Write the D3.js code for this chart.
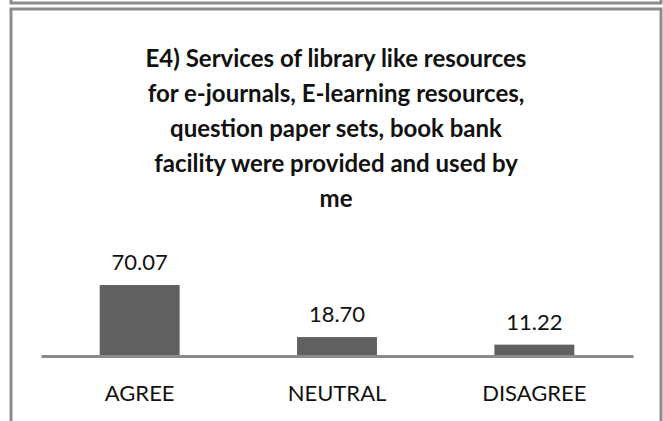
<!DOCTYPE html>
<html>
<head>
<meta charset="utf-8">
<script src="https://cdn.jsdelivr.net/npm/d3@7"></script>
<style>
  body { margin: 0; background: #fff; }
  text { font-family: Lato, "Open Sans", sans-serif; fill: #111; }
</style>
</head>
<body>
<svg width="663" height="421"></svg>
<script>
const WIDTH = 663
const HEIGHT = 421

const categories = ['AGREE', 'NEUTRAL', 'DISAGREE']
const values = [70.07, 18.70, 11.22]
const valueLabels = ['70.07', '18.70', '11.22']
const titleLines = [
    'E4) Services of library like resources',
    'for e-journals, E-learning resources,',
    'question paper sets, book bank',
    'facility were provided and used by',
    'me'
]

const svg = d3.select('svg')

// bottom edge of the panel above, and this panel's frame
svg.append('rect')
    .attr('x', 11).attr('y', -100)
    .attr('width', 650).attr('height', 103)
    .attr('fill', 'none').attr('stroke', '#8c8c8c').attr('stroke-width', 3)
svg.append('rect')
    .attr('x', 11).attr('y', 9)
    .attr('width', 650).attr('height', 440)
    .attr('fill', '#fff').attr('stroke', '#8c8c8c').attr('stroke-width', 3)

const x = d3.scaleBand()
    .domain(categories)
    .range([41, 633])
    .paddingInner(0.595)
    .paddingOuter(0.2975)

const y = d3.scaleLinear()
    .domain([0, 80])
    .range([356, 275])

svg.append('g')
    .selectAll('text')
    .data(titleLines)
    .enter().append('text')
    .attr('x', 336)
    .attr('y', (d, i) => 67 + i * 35)
    .attr('text-anchor', 'middle')
    .attr('font-size', 24)
    .attr('font-weight', 'bold')
    .attr('fill', '#000')
    .text(d => d)

svg.append('g')
    .selectAll('rect')
    .data(values)
    .enter().append('rect')
    .attr('x', (d, i) => x(categories[i]))
    .attr('width', x.bandwidth())
    .attr('y', d => y(d))
    .attr('height', d => y(0) - y(d))
    .attr('fill', '#606060')

svg.append('g')
    .selectAll('text')
    .data(values)
    .enter().append('text')
    .attr('x', (d, i) => x(categories[i]) + x.bandwidth() / 2)
    .attr('y', d => y(d) - 15)
    .attr('text-anchor', 'middle')
    .attr('font-size', 22)
    .text((d, i) => valueLabels[i])

const xAxis = svg.append('g')
    .attr('transform', `translate(0,${y(0)})`)
    .call(d3.axisBottom(x).tickSize(0).tickPadding(29))
xAxis.select('.domain').attr('stroke', '#8a8a8a').attr('stroke-width', 3)
xAxis.selectAll('text')
    .attr('font-size', 22)
    .attr('font-family', 'Lato, "Open Sans", sans-serif')
    .attr('fill', '#111')
</script>
</body>
</html>
